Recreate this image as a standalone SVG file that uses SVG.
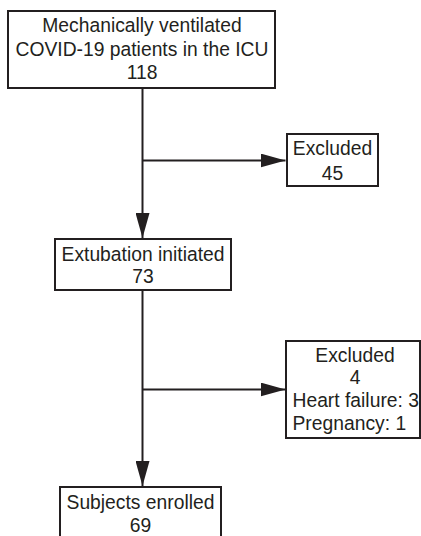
<svg xmlns="http://www.w3.org/2000/svg" width="421" height="536" viewBox="0 0 421 536">
<style>
.box{fill:#fff;stroke:#231f20;stroke-width:2}
.t{font-family:"Liberation Sans",Arial,sans-serif;font-size:19.3px;fill:#231f20;text-anchor:middle}
.tl{font-family:"Liberation Sans",Arial,sans-serif;font-size:19.3px;fill:#231f20}
.c{fill:none;stroke:#231f20;stroke-width:2}
</style>
<defs>
<marker id="ah" markerWidth="25" markerHeight="14" refX="25" refY="7" orient="auto" markerUnits="userSpaceOnUse">
<path d="M0,0 L25,7 L0,14 Z" fill="#231f20"/>
</marker>
</defs>
<rect width="421" height="536" fill="#fff"/>
<g id="connectors">
<line class="c" x1="142.5" y1="88" x2="142.5" y2="238" marker-end="url(#ah)"/>
<line class="c" x1="142.5" y1="160.5" x2="285.5" y2="160.5" marker-end="url(#ah)"/>
<line class="c" x1="142.5" y1="290" x2="142.5" y2="486" marker-end="url(#ah)"/>
<line class="c" x1="142.5" y1="389.5" x2="285.5" y2="389.5" marker-end="url(#ah)"/>
</g>
<g id="n1">
<rect class="box" x="8" y="11" width="267" height="77"/>
<text class="t" x="142" y="32">Mechanically ventilated</text>
<text class="t" x="142" y="56">COVID-19 patients in the ICU</text>
<text class="t" x="142" y="79">118</text>
</g>
<g id="n2">
<rect class="box" x="287" y="134" width="91" height="52"/>
<text class="t" x="332.5" y="155">Excluded</text>
<text class="t" x="332.5" y="180">45</text>
</g>
<g id="n3">
<rect class="box" x="55" y="239" width="176" height="51"/>
<text class="t" x="143" y="260.5">Extubation initiated</text>
<text class="t" x="143" y="283">73</text>
</g>
<g id="n4">
<rect class="box" x="286" y="341" width="134" height="97"/>
<text class="t" x="355" y="361.5">Excluded</text>
<text class="t" x="355" y="384">4</text>
<text class="tl" x="292.5" y="406.5">Heart failure: 3</text>
<text class="tl" x="292.5" y="430">Pregnancy: 1</text>
</g>
<g id="n5">
<rect class="box" x="60" y="487" width="161" height="52"/>
<text class="t" x="140.5" y="509">Subjects enrolled</text>
<text class="t" x="140.5" y="531.5">69</text>
</g>
</svg>
